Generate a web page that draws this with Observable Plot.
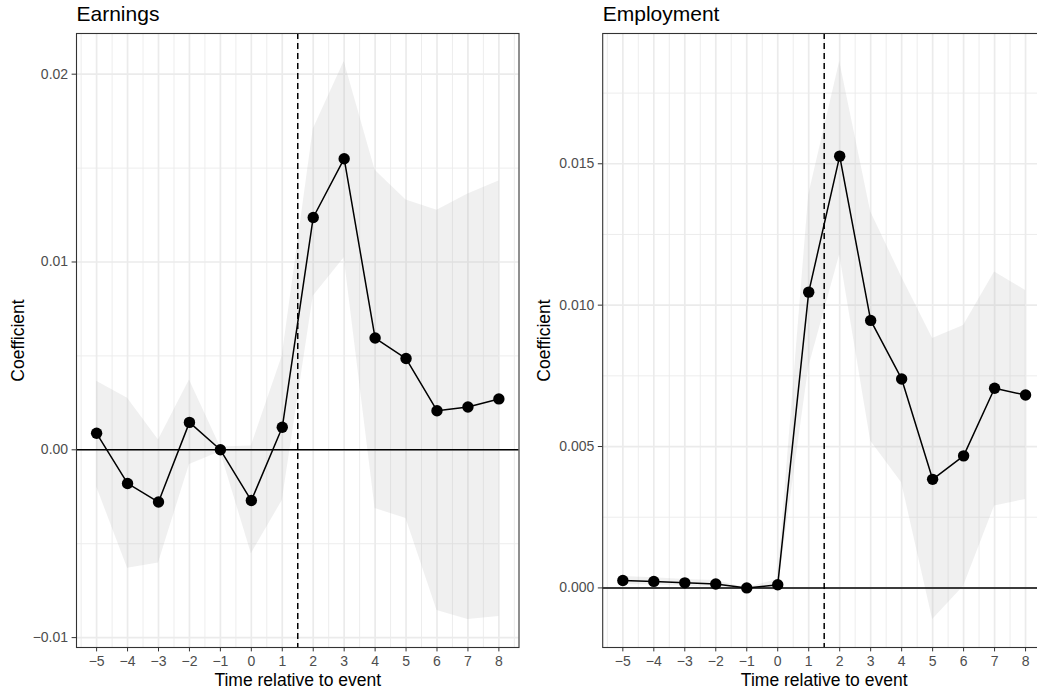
<!DOCTYPE html>
<html>
<head>
<meta charset="utf-8">
<script src="https://cdn.jsdelivr.net/npm/d3@7"></script>
<script src="https://cdn.jsdelivr.net/npm/@observablehq/plot@0.6"></script>
<style>
  html, body { margin: 0; padding: 0; background: #fff; overflow: hidden; }
  #row { display: flex; flex-direction: row; align-items: flex-start; width: 1100px; }
  #row svg { display: block; max-width: none !important; flex: none; }
</style>
</head>
<body>
<div id="row"></div>
<script>
// ---- Data ----
const periods = [-5, -4, -3, -2, -1, 0, 1, 2, 3, 4, 5, 6, 7, 8];

const earningsCoef  = [0.00088, -0.00179, -0.00278, 0.00146, 0, -0.0027, 0.0012, 0.01237, 0.0155, 0.00595, 0.00486, 0.00208, 0.00228, 0.00271];
const earningsLower = [-0.00197, -0.0063, -0.00603, -0.00078, -0.0001, -0.00553, -0.0027, 0.00817, 0.01022, -0.00313, -0.00366, -0.00856, -0.00904, -0.00888];
const earningsUpper = [0.00365, 0.00274, 0.00052, 0.00372, 0.00015, 0.0002, 0.005, 0.01707, 0.02068, 0.01488, 0.0133, 0.01275, 0.01362, 0.01431];

const employmentCoef  = [0.00026, 0.00023, 0.00018, 0.00014, 0, 0.00011, 0.01046, 0.01527, 0.00946, 0.00739, 0.00384, 0.00467, 0.00706, 0.00682];
const employmentLower = [0.00012, 0.0001, 0.00006, 0.00002, 0, -0.0001, 0.0078, 0.01178, 0.0052, 0.00372, -0.00112, 0.00006, 0.0029, 0.00313];
const employmentUpper = [0.0004, 0.00036, 0.0003, 0.00026, 0, 0.0003, 0.0139, 0.01862, 0.0133, 0.011, 0.00882, 0.00928, 0.01117, 0.01052];

const xMinorTicks = [-5.5, -4.5, -3.5, -2.5, -1.5, -0.5, 0.5, 1.5, 2.5, 3.5, 4.5, 5.5, 6.5, 7.5, 8.5];
const earningsYTicks = [-0.01, 0, 0.01, 0.02];
const earningsYMinor = [-0.005, 0.005, 0.015];
const employmentYTicks = [0, 0.005, 0.01, 0.015];
const employmentYMinor = [-0.0025, 0.0025, 0.0075, 0.0125, 0.0175];

const eventLine = 1.5;
const xTitle = "Time relative to event";
const yTitle = "Coefficient";

const FONT = "'Liberation Sans', Arial, Helvetica, sans-serif";
const minus = s => s.replace("-", "\u2212");

function panel({title, coef, lower, upper, yTicks, yMinor, yFmt, marginLeft, marginRight, width}) {
  const rows = periods.map((p, i) => ({x: p, y: coef[i], lo: lower[i], hi: upper[i]}));
  // ggplot-style 5% expansion
  const xs = d3.extent(periods);
  const xpad = (xs[1] - xs[0]) * 0.05;
  const ys = d3.extent([...coef, ...lower, ...upper]);
  const ypad = (ys[1] - ys[0]) * 0.05;
  const yDomain = [ys[0] - ypad, ys[1] + ypad];
  const inY = v => v >= yDomain[0] && v <= yDomain[1];
  return Plot.plot({
    width, height: 694,
    marginLeft, marginRight, marginTop: 33, marginBottom: 47,
    style: {fontFamily: FONT, background: "#fff", overflow: "visible", maxWidth: "none"},
    x: {domain: [xs[0] - xpad, xs[1] + xpad]},
    y: {domain: yDomain},
    marks: [
      Plot.ruleX(xMinorTicks, {stroke: "#ebebeb", strokeWidth: 0.9}),
      Plot.ruleY(yMinor.filter(inY), {stroke: "#ebebeb", strokeWidth: 0.9}),
      Plot.ruleX(periods, {stroke: "#ebebeb", strokeWidth: 1.7}),
      Plot.ruleY(yTicks, {stroke: "#ebebeb", strokeWidth: 1.7}),
      Plot.areaY(rows, {x: "x", y1: "lo", y2: "hi", fill: "#b3b3b3", fillOpacity: 0.2}),
      Plot.ruleY([0], {stroke: "black", strokeWidth: 1.5}),
      Plot.ruleX([eventLine], {stroke: "black", strokeWidth: 1.5, strokeDasharray: "6,4"}),
      Plot.line(rows, {x: "x", y: "y", stroke: "black", strokeWidth: 1.5}),
      Plot.dot(rows, {x: "x", y: "y", r: 5.7, fill: "black", stroke: "none"}),
      Plot.frame({stroke: "#333333", strokeWidth: 1.1}),
      Plot.axisX({ticks: periods, tickSize: 4.4, tickPadding: 4, fontSize: 14, stroke: "#333333", fill: "#4d4d4d",
                  tickFormat: d => minus(String(d)), label: null}),
      Plot.axisY({ticks: yTicks, tickSize: 4.4, tickPadding: 4, fontSize: 14, stroke: "#333333", fill: "#4d4d4d",
                  tickFormat: d => minus(yFmt(d)), label: null}),
      Plot.text([title], {text: d => d, frameAnchor: "top-left", dy: -19.5, textAnchor: "start", lineAnchor: "middle",
                          fontSize: 21, fill: "black"}),
      Plot.text([xTitle], {text: d => d, frameAnchor: "bottom", dy: 33, textAnchor: "middle", lineAnchor: "middle",
                           fontSize: 17.5, fill: "black"}),
      Plot.text([yTitle], {text: d => d, frameAnchor: "left", dx: -58, rotate: -90, textAnchor: "middle", lineAnchor: "middle",
                           fontSize: 17.5, fill: "black"})
    ]
  });
}

const row = document.getElementById("row");
row.append(panel({
  title: "Earnings", coef: earningsCoef, lower: earningsLower, upper: earningsUpper,
  yTicks: earningsYTicks, yMinor: earningsYMinor, yFmt: d3.format(".2f"),
  marginLeft: 76, marginRight: 1.5, width: 520
}));
row.append(panel({
  title: "Employment", coef: employmentCoef, lower: employmentLower, upper: employmentUpper,
  yTicks: employmentYTicks, yMinor: employmentYMinor, yFmt: d3.format(".3f"),
  marginLeft: 82.2, marginRight: 2.8, width: 528
}));
</script>
</body>
</html>
